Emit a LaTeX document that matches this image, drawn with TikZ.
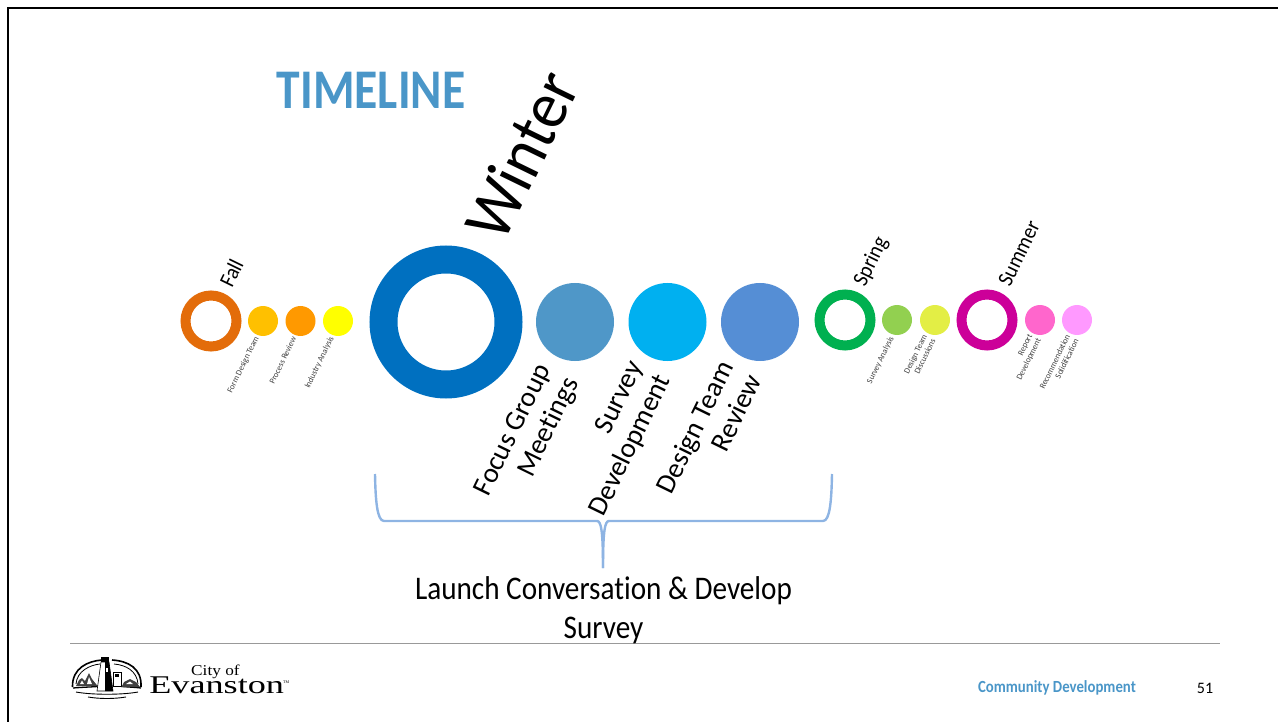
\documentclass[tikz,border=0pt]{standalone}
\usepackage{fontspec}
\setmainfont[Ligatures=NoCommon]{Carlito}
\newfontfamily\logofont{Liberation Serif}
\definecolor{fallc}{HTML}{E36C0A}
\definecolor{formc}{HTML}{FFC000}
\definecolor{reviewc}{HTML}{FF9900}
\definecolor{industryc}{HTML}{FFFF00}
\definecolor{winterc}{HTML}{0070C0}
\definecolor{focusc}{HTML}{4F97C8}
\definecolor{surveyc}{HTML}{00B0F0}
\definecolor{designc}{HTML}{558ED5}
\definecolor{springc}{HTML}{00B050}
\definecolor{analysisc}{HTML}{92D050}
\definecolor{talkc}{HTML}{E3EE45}
\definecolor{summerc}{HTML}{CC0099}
\definecolor{reportc}{HTML}{FF66CC}
\definecolor{recomc}{HTML}{FF99FF}
\definecolor{bracec}{HTML}{8EB4E3}
\definecolor{titlec}{HTML}{4A96C8}
\tikzset{
	season/.style={rotate=64,xscale=0.92,anchor=base west,inner sep=0pt},
	task/.style={rotate=64,xscale=0.97,anchor=east,align=right,inner sep=0pt,text=black!75,font=\fontsize{8.5}{9.5}\selectfont},
	bigtask/.style={rotate=64,anchor=east,align=right,inner sep=0pt,font=\fontsize{28}{31}\selectfont},
}
\begin{document}
\begin{tikzpicture}[x=1pt,y=-1pt]
	\useasboundingbox (0,0) rectangle (1278,722);

	\newcommand*{\myring}[5]{%
	\node [circle,draw=#4,line width=#3-#5,minimum size=#3+#5,inner sep=0pt] (#1) at (#2) {};
	}
	\newcommand*{\mydot}[3]{%
	\node [circle,fill=#3,minimum size=30,inner sep=0pt] (#1) at (#2) {};
	}
	\newcommand*{\mybigdot}[3]{%
	\node [circle,fill=#3,minimum size=78,inner sep=0pt] (#1) at (#2) {};
	}

	% frame and footer rule
	\draw [line width=2pt] (8,722) -- (8,8) -- (1278,8);
	\draw [black!40,line width=0.8pt] (70,643.5) -- (1220,643.5);

	\node [xscale=0.85,text=titlec,font=\bfseries\fontsize{56}{56}\selectfont] (title) at (371,90) {TIMELINE};

	% fall
	\myring{fall}{211,321}{30.5}{fallc}{20.5}
	\mydot{form}{263,321}{formc}
	\mydot{review}{300.5,321}{reviewc}
	\mydot{industry}{338,321}{industryc}
	\node [season,font=\fontsize{22}{22}\selectfont] (falltxt) at (232,289) {Fall};
	\node [task] (formtxt) at (257,337) {Form Design Team};
	\node [task] (reviewtxt) at (294,337) {Process Review};
	\node [task] (industrytxt) at (332,337) {Industry Analysis};

	% winter
	\myring{winter}{446,322}{76.5}{winterc}{48.5}
	\mybigdot{focus}{575,322}{focusc}
	\mybigdot{survey}{667.5,322}{surveyc}
	\mybigdot{design}{760,322}{designc}
	\node [season,xscale=1.01,font=\fontsize{68}{68}\selectfont] (wintertxt) at (503,245) {Winter};
	\node [bigtask] (focustxt) at (559,373) {Focus Group\\Meetings};
	\node [bigtask] (surveytxt) at (651,370) {Survey\\Development};
	\node [bigtask] (designtxt) at (740,369) {Design Team\\Review};

	% spring
	\myring{spring}{845,320}{30.5}{springc}{20.5}
	\mydot{analysis}{897,320}{analysisc}
	\mydot{talk}{935,320}{talkc}
	\node [season,font=\fontsize{22}{22}\selectfont] (springtxt) at (865,288) {Spring};
	\node [task] (analysistxt) at (892,337) {Survey Analysis};
	\node [task] (talktxt) at (929,337) {Design Team\\Discussions};

	% summer
	\myring{summer}{987,320}{30.5}{summerc}{20.5}
	\mydot{report}{1040,320}{reportc}
	\mydot{recom}{1077,320}{recomc}
	\node [season,font=\fontsize{22}{22}\selectfont] (summertxt) at (1010,288) {Summer};
	\node [task] (reporttxt) at (1035,337) {Report\\Development};
	\node [task] (recomtxt) at (1072,337) {Recommendation\\Solidification};

	% brace
	\draw [bracec,line width=2.4pt] (375,474) .. controls (375.5,500) and (377,521) .. (384,521)
		-- (597,521) .. controls (601,521) and (603,530) .. (603,568);
	\draw [bracec,line width=2.4pt] (832,474) .. controls (831.5,500) and (830,521) .. (823,521)
		-- (609,521) .. controls (605,521) and (603,530) .. (603,568);
	\node [xscale=0.885,align=center,font=\fontsize{33}{39}\selectfont] (launch) at (603.5,610) {Launch Conversation \& Develop\\Survey};

	% logo
	\draw [line width=1.6pt] (72.5,687) .. controls (72,668) and (88,661) .. (102,660);
	\draw [line width=1.6pt] (112,660) .. controls (128,661) and (142,668) .. (141,687);
	\draw [line width=0.8pt] (76,684) .. controls (77,671) and (90,665) .. (100,664);
	\draw [line width=0.8pt] (114,664) .. controls (126,665) and (137,671) .. (138,684);
	\draw [line width=1.3pt] (73,688) .. controls (85,687) and (95,687) .. (102,686);
	\draw [line width=1.3pt] (118,686) .. controls (125,687) and (132,687) .. (141,688);
	\draw [line width=0.9pt] (76,692) .. controls (92,695) and (122,695) .. (138,692);
	\draw [line width=0.9pt] (88,697) .. controls (100,699) and (114,699) .. (126,697);
	\fill [black!75] (76,686) -- (79,680) -- (82,678) -- (85,681) -- (89,673) -- (92,679) -- (96,684) -- (98,686) -- cycle;
	\fill [white] (80,684) -- (82,680.5) -- (84,684) -- cycle;
	\fill [white] (87,684) -- (89,677) -- (92,684) -- cycle;
	\draw [line width=0.6pt,fill=white] (101,662) -- (109,662) -- (113,691) -- (97,691) -- cycle;
	\fill (105,662) -- (109,662) -- (113,691) -- (105,691) -- cycle;
	\fill [white] (106,668) rectangle (108,672);
	\fill (100.5,656.5) rectangle (109,661.5);
	\draw [line width=0.7pt,fill=white] (113.5,672) rectangle (121.5,686);
	\fill (115,674) rectangle (118.5,676.5);
	\fill [black!75] (121.5,687) -- (124,682) -- (130,679) -- (136,682) -- (140,687) -- cycle;
	\fill [white] (126,684) -- (130,681.5) -- (133,684) -- cycle;
	\node [xscale=1.15,anchor=base west,inner sep=0pt,font=\logofont\fontsize{15}{15}\selectfont] (cityof) at (191,675) {City of};
	\node [xscale=1.42,anchor=base west,inner sep=0pt,font=\logofont\fontsize{25.5}{25.5}\selectfont] (evanston) at (149,693) {Evanston};
	\node [anchor=west,inner sep=0pt,font=\logofont\fontsize{4}{4}\selectfont] (tm) at (283,682) {TM};

	% footer text
	\node [xscale=0.87,text=titlec,font=\bfseries\fontsize{17}{17}\selectfont] (dept) at (1057,688) {Community Development};
	\node [font=\fontsize{16}{16}\selectfont] (pagenr) at (1205,688) {51};
\end{tikzpicture}
\end{document}
